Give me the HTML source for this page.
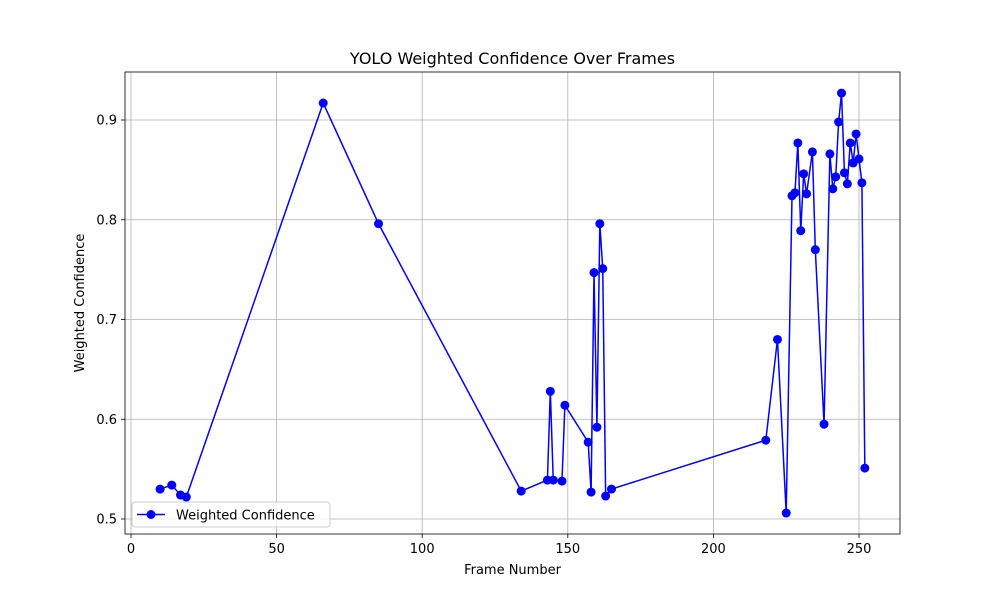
<!DOCTYPE html>
<html><head><meta charset="utf-8"><style>
html,body{margin:0;padding:0;background:#fff;}
svg{display:block;font-family:"DejaVu Sans","Liberation Sans",sans-serif;}
</style></head><body>
<svg id="chart" width="1000" height="600" viewBox="0 0 1000 600">
<rect x="0" y="0" width="1000" height="600" fill="#fff"/>
<g id="grid"></g>
<g id="series"></g>
<rect x="125" y="72" width="775" height="462" fill="none" stroke="#000" stroke-width="0.8"/>
<g id="ticks"></g>
<text x="512.5" y="64" text-anchor="middle" font-size="16">YOLO Weighted Confidence Over Frames</text>
<text x="512.5" y="574" text-anchor="middle" font-size="13">Frame Number</text>
<text x="84" y="303" text-anchor="middle" font-size="13" transform="rotate(-90 84 303)">Weighted Confidence</text>
<g>
<rect x="132" y="502" width="198" height="25" rx="3" fill="#fff" fill-opacity="0.8" stroke="#ccc"/>
<line x1="137" y1="514.5" x2="165" y2="514.5" stroke="#0000ff" stroke-width="1.5"/>
<circle cx="151" cy="514.5" r="4.5" fill="#0000ff"/>
<text x="176" y="519.5" font-size="13">Weighted Confidence</text>
</g>
</svg>
<script>
const frames = [10,14,17,19,66,85,134,143,144,145,148,149,157,158,159,160,161,162,163,165,218,222,225,227,228,229,230,231,232,234,235,238,240,241,242,243,244,245,246,247,248,249,250,251,252];
const confidence = [0.530,0.534,0.524,0.522,0.917,0.796,0.528,0.539,0.628,0.539,0.538,0.614,0.577,0.527,0.747,0.592,0.796,0.751,0.523,0.530,0.579,0.680,0.506,0.824,0.827,0.877,0.789,0.846,0.826,0.868,0.770,0.595,0.866,0.831,0.843,0.898,0.927,0.847,0.836,0.877,0.857,0.886,0.861,0.837,0.551];
const xTicks = [0,50,100,150,200,250];
const yTicks = [0.5,0.6,0.7,0.8,0.9];
const NS = "http://www.w3.org/2000/svg";
function xs(v){ return 131 + v * 2.912; }
function ys(v){ return 519 - (v - 0.5) * 997.5; }
const grid = document.getElementById('grid');
const ticks = document.getElementById('ticks');
const series = document.getElementById('series');
function mk(tag, attrs, parent){ const e=document.createElementNS(NS,tag); for(const k in attrs) e.setAttribute(k,attrs[k]); parent.appendChild(e); return e; }
xTicks.forEach(t=>{
  const x=xs(t);
  const g=mk('line',{x1:x,y1:72,x2:x,y2:534,stroke:'#b0b0b0','stroke-width':0.8},grid);
  
  
  mk('line',{x1:x,y1:534,x2:x,y2:538,stroke:'#000','stroke-width':0.8},ticks);
  const tx=mk('text',{x:x,y:553,'text-anchor':'middle','font-size':13},ticks);
  tx.textContent=t;
  
  
});
yTicks.forEach(t=>{
  const y=ys(t);
  const g=mk('line',{x1:125,y1:y,x2:900,y2:y,stroke:'#b0b0b0','stroke-width':0.8},grid);
  
  
  mk('line',{x1:121,y1:y,x2:125,y2:y,stroke:'#000','stroke-width':0.8},ticks);
  const tx=mk('text',{x:117,y:y+4.5,'text-anchor':'end','font-size':13},ticks);
  tx.textContent=t.toFixed(1);
  
  
});
const pts = frames.map((f,i)=>xs(f)+','+ys(confidence[i])).join(' ');
const pl = mk('polyline',{points:pts,fill:'none',stroke:'#0000ff','stroke-width':1.5,'stroke-linejoin':'round'},series);


frames.forEach((f,i)=>{
  const c=mk('circle',{cx:xs(f),cy:ys(confidence[i]),r:4.5,fill:'#0000ff'},series);
  
  
});
</script>
</body></html>
